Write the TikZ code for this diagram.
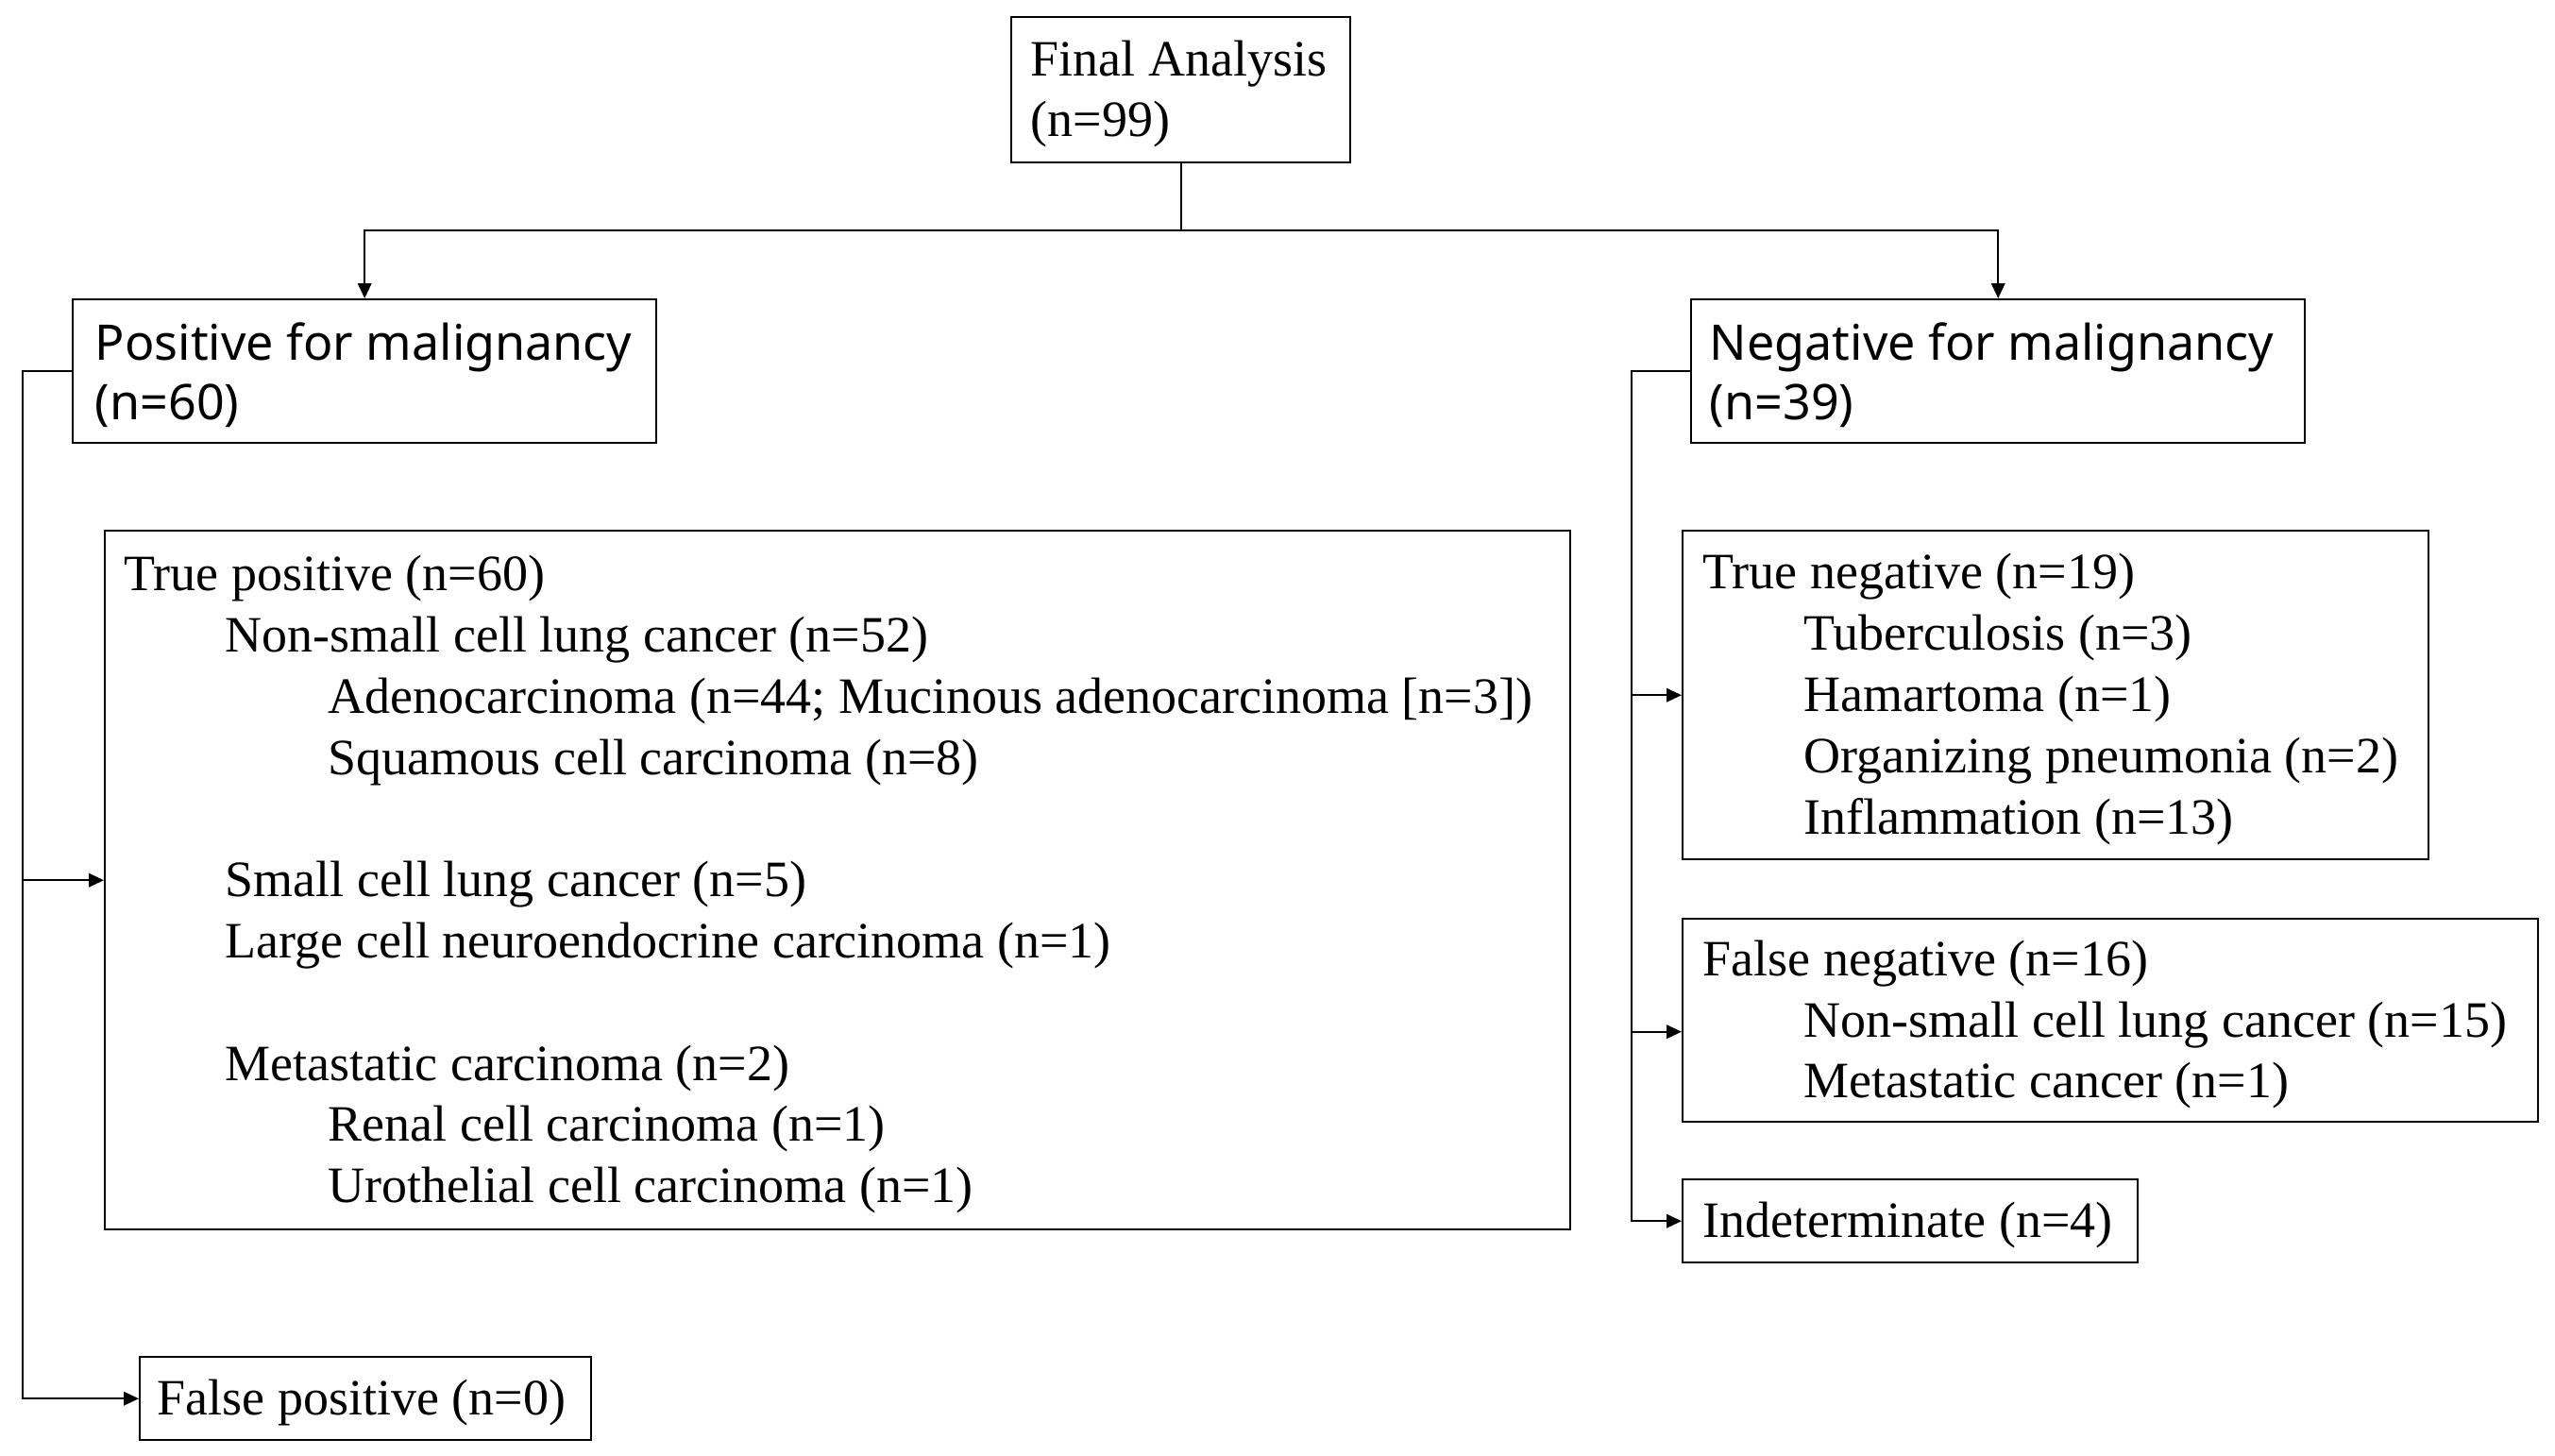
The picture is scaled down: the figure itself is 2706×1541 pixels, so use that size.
\documentclass[tikz,border=0pt]{standalone}
\usepackage{fontspec}
\setmainfont{Liberation Serif}
\newfontfamily\sansf{Noto Sans}
\usetikzlibrary{arrows.meta,calc}
\begin{document}
\begin{tikzpicture}[x=0.25pt,y=-0.25pt,
 box/.style={draw,line width=0.6pt,inner sep=0pt,anchor=north west},
 txt/.style={align=left,inner sep=0pt,anchor=west,yshift=-1.1pt,font=\fontsize{13.5}{16.2}\selectfont},
 stxt/.style={align=left,inner sep=0pt,anchor=west,yshift=-1.1pt,font=\sansf\fontsize{13}{15.75}\selectfont},
 conn/.style={line width=0.6pt},
 arr/.style={conn,-{Triangle[length=4pt,width=3.6pt]}}]
\useasboundingbox (0,0) rectangle (2706,1541);
\newcommand{\ia}{\hspace*{26.75pt}}
\newcommand{\ib}{\hspace*{54pt}}
% boxes
\node[box,minimum width=89.75pt,minimum height=38.5pt] (fa) at (1070,17) {};
\node[box,minimum width=154.5pt,minimum height=38pt] (pos) at (76,316) {};
\node[box,minimum width=162.5pt,minimum height=38pt] (neg) at (1790,316) {};
\node[box,minimum width=388pt,minimum height=185pt] (tp) at (110,561) {};
\node[box,minimum width=119.5pt,minimum height=22pt] (fp) at (147,1436) {};
\node[box,minimum width=197.5pt,minimum height=87pt] (tn) at (1781,561) {};
\node[box,minimum width=226.5pt,minimum height=53.75pt] (fn) at (1781,972) {};
\node[box,minimum width=120.5pt,minimum height=22pt] (ind) at (1781,1248) {};
% texts
\node[txt] (fat) at ([xshift=5.25pt]fa.west) {Final Analysis\\(n=99)};
\node[stxt] (post) at ([xshift=6pt]pos.west) {Positive for malignancy\\(n=60)};
\node[stxt] (negt) at ([xshift=5pt]neg.west) {Negative for malignancy\\(n=39)};
\node[txt] (tpt) at ([xshift=5.25pt]tp.west) {True positive (n=60)\\
\ia Non-small cell lung cancer (n=52)\\
\ib Adenocarcinoma (n=44; Mucinous adenocarcinoma [n=3])\\
\ib Squamous cell carcinoma (n=8)\\
~\\
\ia Small cell lung cancer (n=5)\\
\ia Large cell neuroendocrine carcinoma (n=1)\\
~\\
\ia Metastatic carcinoma (n=2)\\
\ib Renal cell carcinoma (n=1)\\
\ib Urothelial cell carcinoma (n=1)};
\node[txt] (fpt) at ([xshift=4.75pt]fp.west) {False positive (n=0)};
\node[txt] (tnt) at ([xshift=5.5pt]tn.west) {True negative (n=19)\\
\ia Tuberculosis (n=3)\\
\ia Hamartoma (n=1)\\
\ia Organizing pneumonia (n=2)\\
\ia Inflammation (n=13)};
\node[txt] (fnt) at ([xshift=5.5pt]fn.west) {False negative (n=16)\\
\ia Non-small cell lung cancer (n=15)\\
\ia Metastatic cancer (n=1)};
\node[txt] (indt) at ([xshift=5.5pt]ind.west) {Indeterminate (n=4)};
% connectors
\draw[conn] (fa.south) -- (fa.south |- 0,244) coordinate (j);
\draw[arr] (j) -| (pos.north);
\draw[arr] (j) -| (neg.north);
\draw[arr] (pos.west) -- ++(-52,0) coordinate (pv) |- (fp.west);
\draw[arr] (pv |- tp.west) -- (tp.west);
\draw[arr] (neg.west) -- ++(-62,0) coordinate (nv) |- (ind.west);
\draw[arr] (nv |- tn.west) -- (tn.west);
\coordinate (fnw) at ($(fn.west)+(0,12)$);
\draw[arr] (nv |- fnw) -- (fnw);
\end{tikzpicture}
\end{document}
